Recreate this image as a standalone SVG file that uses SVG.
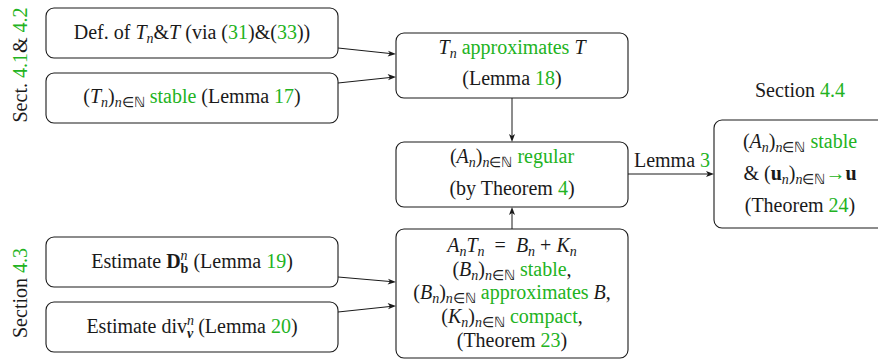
<svg xmlns="http://www.w3.org/2000/svg" width="878" height="362" viewBox="0 0 878 362">
<defs>
<style>
.g{fill:#22b322}
.i{font-style:italic}
.s{font-size:14px}
.b{font-weight:bold}
.box{fill:#fff;stroke:#1a1a1a;stroke-width:1.1}
.c{stroke:#1a1a1a;stroke-width:1;fill:none}
.h{fill:#1a1a1a}
</style>
</defs>
<rect width="878" height="362" fill="#fff"/>

<g id="connectors">
<line class="c" x1="338" y1="48" x2="390" y2="53.5"/>
<polygon class="h" points="396,54 388,50.7 390,53.5 387.6,56.6"/>
<line class="c" x1="338" y1="83" x2="390" y2="77.5"/>
<polygon class="h" points="396,77 387.6,74 390,77.5 388,80.3"/>
<line class="c" x1="338" y1="277" x2="390" y2="281.5"/>
<polygon class="h" points="396,282 388,278.7 390,281.5 387.6,284.6"/>
<line class="c" x1="338" y1="312" x2="390" y2="306.5"/>
<polygon class="h" points="396,306 387.6,303 390,306.5 388,309.3"/>
<line class="c" x1="512" y1="98" x2="512" y2="136"/>
<polygon class="h" points="512,142 509,134 512,136 515,134"/>
<line class="c" x1="512" y1="229" x2="512" y2="213"/>
<polygon class="h" points="512,207 509,215 512,213 515,215"/>
<line class="c" x1="628" y1="174" x2="708" y2="174"/>
<polygon class="h" points="714,174 706,171 708,174 706,177"/>
<text style="font-family:'Liberation Serif',serif;font-size:20px;text-anchor:middle" fill="#1a1a1a" x="672" y="167">Lemma <tspan class="g">3</tspan></text>
</g>

<g id="labels" fill="#1a1a1a">
<text style="font-family:'Liberation Serif',serif;font-size:20px;text-anchor:middle" transform="translate(27,65) rotate(-90)">Sect. <tspan class="g">4.1</tspan>&amp; <tspan class="g">4.2</tspan></text>
<text style="font-family:'Liberation Serif',serif;font-size:20px;text-anchor:middle" transform="translate(27,293) rotate(-90)">Section <tspan class="g">4.3</tspan></text>
<text style="font-family:'Liberation Serif',serif;font-size:20px;text-anchor:middle" x="800" y="97">Section <tspan class="g">4.4</tspan></text>
</g>

<g id="n-def" fill="#1a1a1a">
<rect class="box" x="46" y="8" width="292" height="50" rx="8"/>
<text style="font-family:'Liberation Serif',serif;font-size:20px;text-anchor:middle" x="192" y="39">Def.  of <tspan class="i">T</tspan><tspan class="s i" dy="4">n</tspan><tspan dy="-4">&amp;</tspan><tspan class="i">T</tspan> (via (<tspan class="g">31</tspan>)&amp;(<tspan class="g">33</tspan>))</text>
</g>

<g id="n-tstable" fill="#1a1a1a">
<rect class="box" x="46" y="73" width="292" height="50" rx="8"/>
<text style="font-family:'Liberation Serif',serif;font-size:20px;text-anchor:middle" x="192" y="103">(<tspan class="i">T</tspan><tspan class="s i" dy="4">n</tspan><tspan dy="-4">)</tspan><tspan class="s" dy="4"><tspan class="i">n</tspan>∈ℕ</tspan><tspan class="g" dy="-4"> stable</tspan> (Lemma <tspan class="g">17</tspan>)</text>
</g>

<g id="n-approx" fill="#1a1a1a">
<rect class="box" x="396" y="33" width="232" height="65" rx="8"/>
<text style="font-family:'Liberation Serif',serif;font-size:20px;text-anchor:middle" x="512" y="54"><tspan class="i">T</tspan><tspan class="s i" dy="4">n</tspan><tspan class="g" dy="-4"> approximates </tspan><tspan class="i">T</tspan></text>
<text style="font-family:'Liberation Serif',serif;font-size:20px;text-anchor:middle" x="512" y="85">(Lemma <tspan class="g">18</tspan>)</text>
</g>

<g id="n-regular" fill="#1a1a1a">
<rect class="box" x="396" y="142" width="232" height="65" rx="8"/>
<text style="font-family:'Liberation Serif',serif;font-size:20px;text-anchor:middle" x="512" y="163">(<tspan class="i">A</tspan><tspan class="s i" dy="4">n</tspan><tspan dy="-4">)</tspan><tspan class="s" dy="4"><tspan class="i">n</tspan>∈ℕ</tspan><tspan class="g" dy="-4"> regular</tspan></text>
<text style="font-family:'Liberation Serif',serif;font-size:20px;text-anchor:middle" x="512" y="195">(by Theorem <tspan class="g">4</tspan>)</text>
</g>

<g id="n-decomp" fill="#1a1a1a">
<rect class="box" x="396" y="229" width="232" height="129" rx="8"/>
<text style="font-family:'Liberation Serif',serif;font-size:20px;text-anchor:middle" x="512" y="252"><tspan class="i">A</tspan><tspan class="s i" dy="4">n</tspan><tspan class="i" dy="-4">T</tspan><tspan class="s i" dy="4">n</tspan><tspan dy="-4" xml:space="preserve">  =  </tspan><tspan class="i">B</tspan><tspan class="s i" dy="4">n</tspan><tspan dy="-4"> + </tspan><tspan class="i">K</tspan><tspan class="s i" dy="4">n</tspan></text>
<text style="font-family:'Liberation Serif',serif;font-size:20px;text-anchor:middle" x="512" y="276">(<tspan class="i">B</tspan><tspan class="s i" dy="4">n</tspan><tspan dy="-4">)</tspan><tspan class="s" dy="4"><tspan class="i">n</tspan>∈ℕ</tspan><tspan class="g" dy="-4"> stable</tspan>,</text>
<text style="font-family:'Liberation Serif',serif;font-size:20px;text-anchor:middle" x="512" y="299">(<tspan class="i">B</tspan><tspan class="s i" dy="4">n</tspan><tspan dy="-4">)</tspan><tspan class="s" dy="4"><tspan class="i">n</tspan>∈ℕ</tspan><tspan class="g" dy="-4"> approximates</tspan> <tspan class="i">B</tspan>,</text>
<text style="font-family:'Liberation Serif',serif;font-size:20px;text-anchor:middle" x="512" y="323">(<tspan class="i">K</tspan><tspan class="s i" dy="4">n</tspan><tspan dy="-4">)</tspan><tspan class="s" dy="4"><tspan class="i">n</tspan>∈ℕ</tspan><tspan class="g" dy="-4"> compact</tspan>,</text>
<text style="font-family:'Liberation Serif',serif;font-size:20px;text-anchor:middle" x="512" y="347">(Theorem <tspan class="g">23</tspan>)</text>
</g>

<g id="n-estD" fill="#1a1a1a">
<rect class="box" x="46" y="237" width="292" height="50" rx="8"/>
<text style="font-family:'Liberation Serif',serif;font-size:20px;text-anchor:middle" x="192" y="268">Estimate <tspan class="b">D</tspan><tspan class="s i" dy="-8">n</tspan><tspan class="s b" dx="-7" dy="13">b</tspan><tspan dy="-5"> (Lemma </tspan><tspan class="g">19</tspan>)</text>
</g>

<g id="n-estdiv" fill="#1a1a1a">
<rect class="box" x="46" y="302" width="292" height="50" rx="8"/>
<text style="font-family:'Liberation Serif',serif;font-size:20px;text-anchor:middle" x="192" y="333">Estimate div<tspan class="s i" dy="-8">n</tspan><tspan class="s b i" dx="-7" dy="13">ν</tspan><tspan dy="-5"> (Lemma </tspan><tspan class="g">20</tspan>)</text>
</g>

<g id="n-final" fill="#1a1a1a">
<rect class="box" x="714" y="120" width="172" height="108" rx="8"/>
<text style="font-family:'Liberation Serif',serif;font-size:20px;text-anchor:middle" x="800" y="148">(<tspan class="i">A</tspan><tspan class="s i" dy="4">n</tspan><tspan dy="-4">)</tspan><tspan class="s" dy="4"><tspan class="i">n</tspan>∈ℕ</tspan><tspan class="g" dy="-4"> stable</tspan></text>
<text style="font-family:'Liberation Serif',serif;font-size:20px;text-anchor:middle" x="800" y="180">&amp; (<tspan class="b">u</tspan><tspan class="s i" dy="4">n</tspan><tspan dy="-4">)</tspan><tspan class="s" dy="4"><tspan class="i">n</tspan>∈ℕ</tspan><tspan class="g" dy="-4">→</tspan><tspan class="b">u</tspan></text>
<text style="font-family:'Liberation Serif',serif;font-size:20px;text-anchor:middle" x="800" y="212">(Theorem <tspan class="g">24</tspan>)</text>
</g>
</svg>
